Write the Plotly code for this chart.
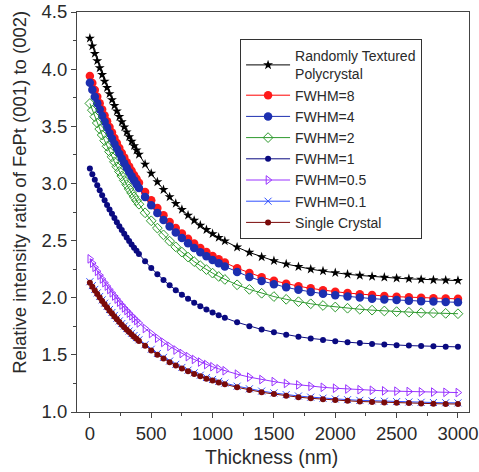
import plotly.graph_objects as go

thickness = [0, 20, 40, 60, 80, 100, 120, 140, 160, 180, 200, 220, 240, 260, 280, 300, 320, 340, 360, 380, 400,
             450, 500, 550, 600, 650, 700, 750, 800, 850, 900, 950, 1000, 1050, 1100,
             1200, 1300, 1400, 1500, 1600, 1700, 1800, 1900, 2000, 2100, 2200, 2300, 2400, 2500, 2600, 2700, 2800, 2900, 3000]

random_poly = [4.270, 4.202, 4.136, 4.073, 4.011, 3.952, 3.894, 3.838, 3.784, 3.732, 3.681, 3.632, 3.584, 3.538, 3.493,
               3.450, 3.408, 3.368, 3.329, 3.291, 3.254, 3.167, 3.087, 3.013, 2.945, 2.882, 2.824, 2.771, 2.721, 2.676,
               2.634, 2.595, 2.559, 2.526, 2.496, 2.442, 2.396, 2.357, 2.323, 2.295, 2.271, 2.250, 2.233, 2.218, 2.205,
               2.195, 2.185, 2.178, 2.171, 2.165, 2.160, 2.156, 2.153, 2.150]

fwhm_8 = [3.940, 3.878, 3.817, 3.759, 3.702, 3.647, 3.594, 3.543, 3.493, 3.445, 3.398, 3.353, 3.309, 3.267, 3.226,
          3.186, 3.148, 3.110, 3.074, 3.040, 3.006, 2.926, 2.852, 2.784, 2.721, 2.663, 2.610, 2.561, 2.515, 2.474,
          2.435, 2.399, 2.366, 2.336, 2.308, 2.258, 2.216, 2.180, 2.149, 2.123, 2.101, 2.082, 2.066, 2.053, 2.041,
          2.031, 2.023, 2.015, 2.009, 2.004, 2.000, 1.996, 1.993, 1.990]

fwhm_4 = [3.880, 3.819, 3.759, 3.702, 3.646, 3.592, 3.539, 3.489, 3.440, 3.392, 3.346, 3.302, 3.259, 3.217, 3.177,
          3.138, 3.100, 3.063, 3.028, 2.993, 2.960, 2.881, 2.809, 2.742, 2.680, 2.623, 2.570, 2.522, 2.477, 2.436,
          2.398, 2.363, 2.330, 2.301, 2.273, 2.224, 2.182, 2.147, 2.117, 2.091, 2.069, 2.051, 2.035, 2.022, 2.010,
          2.001, 1.992, 1.985, 1.979, 1.974, 1.969, 1.966, 1.963, 1.960]

fwhm_2 = [3.700, 3.641, 3.584, 3.529, 3.476, 3.424, 3.374, 3.325, 3.278, 3.233, 3.189, 3.146, 3.105, 3.065, 3.026,
          2.989, 2.952, 2.917, 2.883, 2.850, 2.818, 2.743, 2.673, 2.609, 2.550, 2.495, 2.445, 2.399, 2.356, 2.316,
          2.280, 2.246, 2.215, 2.186, 2.160, 2.113, 2.073, 2.039, 2.010, 1.986, 1.965, 1.947, 1.932, 1.919, 1.908,
          1.899, 1.891, 1.884, 1.878, 1.873, 1.869, 1.866, 1.863, 1.860]

fwhm_1 = [3.130, 3.080, 3.032, 2.985, 2.940, 2.896, 2.853, 2.812, 2.772, 2.734, 2.697, 2.660, 2.625, 2.592, 2.559,
          2.527, 2.496, 2.466, 2.437, 2.410, 2.382, 2.319, 2.260, 2.205, 2.155, 2.109, 2.066, 2.027, 1.990, 1.957,
          1.926, 1.897, 1.871, 1.847, 1.824, 1.785, 1.751, 1.722, 1.697, 1.677, 1.659, 1.644, 1.631, 1.620, 1.611,
          1.603, 1.596, 1.590, 1.585, 1.581, 1.578, 1.575, 1.572, 1.570]

fwhm_05 = [2.340, 2.303, 2.266, 2.231, 2.197, 2.164, 2.132, 2.102, 2.072, 2.043, 2.015, 1.988, 1.961, 1.936, 1.911,
           1.888, 1.865, 1.842, 1.821, 1.800, 1.779, 1.731, 1.687, 1.646, 1.609, 1.574, 1.542, 1.512, 1.485, 1.460,
           1.437, 1.415, 1.396, 1.378, 1.361, 1.331, 1.305, 1.284, 1.266, 1.250, 1.237, 1.225, 1.216, 1.208, 1.201,
           1.195, 1.190, 1.185, 1.182, 1.179, 1.176, 1.174, 1.172, 1.170]

fwhm_01 = [2.140, 2.106, 2.073, 2.042, 2.011, 1.981, 1.952, 1.924, 1.897, 1.871, 1.845, 1.821, 1.797, 1.774, 1.752,
           1.730, 1.709, 1.689, 1.669, 1.651, 1.632, 1.589, 1.549, 1.512, 1.478, 1.446, 1.417, 1.390, 1.366, 1.343,
           1.322, 1.302, 1.285, 1.268, 1.253, 1.226, 1.203, 1.183, 1.167, 1.152, 1.140, 1.130, 1.121, 1.114, 1.108,
           1.102, 1.098, 1.094, 1.091, 1.088, 1.085, 1.083, 1.081, 1.080]

single_crystal = [2.130, 2.096, 2.063, 2.032, 2.001, 1.971, 1.942, 1.914, 1.887, 1.861, 1.835, 1.811, 1.787, 1.764, 1.742,
                  1.720, 1.699, 1.679, 1.659, 1.641, 1.622, 1.579, 1.539, 1.502, 1.468, 1.436, 1.407, 1.380, 1.356, 1.333,
                  1.312, 1.292, 1.275, 1.258, 1.243, 1.216, 1.193, 1.173, 1.157, 1.142, 1.130, 1.120, 1.111, 1.104, 1.098,
                  1.092, 1.088, 1.084, 1.081, 1.078, 1.075, 1.073, 1.071, 1.070]

series_names = ["Randomly Textured<br>Polycrystal", "FWHM=8", "FWHM=4", "FWHM=2", "FWHM=1",
                "FWHM=0.5", "FWHM=0.1", "Single Crystal"]
series_values = [random_poly, fwhm_8, fwhm_4, fwhm_2, fwhm_1, fwhm_05, fwhm_01, single_crystal]

x_tick_vals = [0, 500, 1000, 1500, 2000, 2500, 3000]
y_tick_vals = [1.0, 1.5, 2.0, 2.5, 3.0, 3.5, 4.0, 4.5]

styles = [
    dict(color="#000000", symbol="star", size=7.5, line_w=0, mcolor="#000000"),
    dict(color="#ff0000", symbol="circle", size=8.5, line_w=0, mcolor="#ff1a1a"),
    dict(color="#1c2fb0", symbol="circle", size=8.5, line_w=0, mcolor="#1c2fb0"),
    dict(color="#2e9a2e", symbol="diamond-open", size=7.5, line_w=1, mcolor="#2e9a2e"),
    dict(color="#0a0a80", symbol="circle", size=6, line_w=0, mcolor="#0a0a80"),
    dict(color="#9933ff", symbol="triangle-right-open", size=7.5, line_w=1, mcolor="#9933ff"),
    dict(color="#3050ff", symbol="x-thin-open", size=7, line_w=1, mcolor="#3050ff"),
    dict(color="#7a0a0a", symbol="circle", size=6, line_w=0, mcolor="#7a0a0a"),
]

fig = go.Figure()
for i, (name, vals, st) in enumerate(zip(series_names, series_values, styles)):
    fig.add_trace(go.Scatter(
        x=thickness, y=vals, name=name, mode="lines+markers",
        line=dict(color=st["color"], width=1),
        marker=dict(symbol=st["symbol"], size=st["size"], color=st["mcolor"],
                    line=dict(width=st["line_w"], color=st["mcolor"])),
        legendrank=i + 1,
    ))

font_family = "Arial, Liberation Sans, sans-serif"
fig.update_layout(
    width=479, height=472,
    margin=dict(l=77, r=10, t=12, b=60),
    paper_bgcolor="white", plot_bgcolor="white",
    font=dict(family=font_family, color="#2a2a2a", size=15),
    showlegend=True,
    legend=dict(x=0.416, y=0.932, xanchor="left", yanchor="top",
                bordercolor="#333333", borderwidth=1, bgcolor="white",
                font=dict(size=14, family=font_family, color="#2a2a2a"),
                tracegroupgap=0, itemwidth=44),
    xaxis=dict(range=[-105, 3090], tickvals=x_tick_vals, automargin=False,
               ticklabeloverflow="allow",
               showline=True, linecolor="#444444", linewidth=1, mirror=True,
               ticks="outside", ticklen=5, tickcolor="#444444",
               minor=dict(ticks="outside", ticklen=3, dtick=250, tick0=0, tickcolor="#444444"),
               showgrid=False, zeroline=False,
               tickfont=dict(size=18.5)),
    yaxis=dict(range=[1.0, 4.5], tickvals=y_tick_vals, automargin=False,
               ticklabeloverflow="allow",
               tickformat=".1f",
               showline=True, linecolor="#444444", linewidth=1, mirror=True,
               ticks="outside", ticklen=5, tickcolor="#444444",
               minor=dict(ticks="outside", ticklen=3, dtick=0.25, tick0=1.0, tickcolor="#444444"),
               showgrid=False, zeroline=False,
               tickfont=dict(size=18.5)),
    annotations=[
        dict(text="Relative intensity ratio of FePt (001) to (002)",
             xref="paper", yref="paper", x=-0.146, y=0.55,
             xanchor="center", yanchor="middle", textangle=-90, showarrow=False,
             font=dict(size=18.5, family=font_family, color="#2a2a2a")),
        dict(text="Thickness (nm)",
             xref="paper", yref="paper", x=0.497, y=-0.1125,
             xanchor="center", yanchor="middle", showarrow=False,
             font=dict(size=19.5, family=font_family, color="#2a2a2a")),
    ],
)

fig.write_html("out.html", config={"displayModeBar": False},
               post_script="document.body.style.margin='0';document.body.style.padding='0';document.body.style.overflow='hidden';")
